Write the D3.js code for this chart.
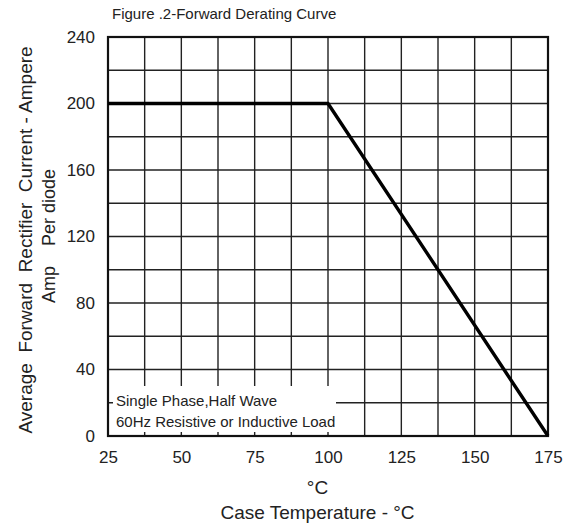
<!DOCTYPE html>
<html><head><meta charset="utf-8">
<script src="https://cdn.jsdelivr.net/npm/d3@7/dist/d3.min.js"></script>
<style>body{margin:0;background:#fff}svg{display:block}text{font-family:"Liberation Sans",Arial,sans-serif;fill:#222}</style>
</head><body><svg id="c" width="575" height="527"></svg>
<script>
const temps = [25, 100, 175];
const current = [200, 200, 0];
const xTicks = [25, 50, 75, 100, 125, 150, 175];
const yTicks = [0, 40, 80, 120, 160, 200, 240];
const xGrid = [25, 37.5, 50, 62.5, 75, 87.5, 100, 112.5, 125, 137.5, 150, 162.5, 175];
const yGrid = [0, 20, 40, 60, 80, 100, 120, 140, 160, 180, 200, 220, 240];
const titleText = "Figure .2-Forward Derating Curve";
const yTitle1 = "Average  Forward  Rectifier  Current - Ampere";
const yTitle2 = "Amp    Per diode";
const xTitle1 = "°C";
const xTitle2 = "Case Temperature - °C";
const noteLines = ["Single Phase,Half Wave", "60Hz Resistive or Inductive Load"];

const svg = d3.select("#c");
const L = 108, R = 548, T = 37, B = 436;
const x = d3.scaleLinear().domain([25, 175]).range([L, R]);
const y = d3.scaleLinear().domain([0, 240]).range([B, T]);

// grid
svg.append("g").selectAll("line").data(xGrid).join("line")
  .attr("x1", d => x(d)).attr("x2", d => x(d)).attr("y1", T).attr("y2", B)
  .attr("stroke", "#222").attr("stroke-width", 1.4);
svg.append("g").selectAll("line").data(yGrid).join("line")
  .attr("y1", d => y(d)).attr("y2", d => y(d)).attr("x1", L).attr("x2", R)
  .attr("stroke", "#222").attr("stroke-width", 1.4);

// note mask
svg.append("rect").attr("x", 113).attr("y", 386).attr("width", 223).attr("height", 46).attr("fill", "#fff");
svg.append("g").selectAll("text").data(noteLines).join("text")
  .attr("x", 116).attr("y", (d, i) => 406 + i * 21)
  .attr("font-size", 15).text(d => d);

// border
svg.append("rect").attr("x", L).attr("y", T).attr("width", R - L).attr("height", B - T)
  .attr("fill", "none").attr("stroke", "#111").attr("stroke-width", 2.2);

// curve
const line = d3.line().x((d, i) => x(temps[i])).y((d, i) => y(current[i]));
svg.append("path").datum(temps).attr("d", line)
  .attr("fill", "none").attr("stroke", "#000").attr("stroke-width", 3.4);

// axes
const xa = svg.append("g").attr("transform", `translate(0,${B})`)
  .call(d3.axisBottom(x).tickValues(xTicks).tickSize(0).tickPadding(15).tickFormat(d3.format("d")));
const ya = svg.append("g").attr("transform", `translate(${L},0)`)
  .call(d3.axisLeft(y).tickValues(yTicks).tickSize(0).tickPadding(13).tickFormat(d3.format("d")));
[xa, ya].forEach(a => {
  a.select(".domain").remove();
  a.selectAll("text").attr("font-size", 17).attr("fill", "#222")
    .attr("font-family", '"Liberation Sans",Arial,sans-serif');
});

// titles
svg.append("text").attr("x", 112).attr("y", 19).attr("font-size", 15).text(titleText);
svg.append("text").attr("x", 317.5).attr("y", 494).attr("text-anchor", "middle").attr("font-size", 19).text(xTitle1);
svg.append("text").attr("x", 317.5).attr("y", 519).attr("text-anchor", "middle").attr("font-size", 19).text(xTitle2);
svg.append("text").attr("transform", "translate(32,240) rotate(-90)").attr("text-anchor", "middle")
  .attr("font-size", 19).style("white-space", "pre").text(yTitle1);
svg.append("text").attr("transform", "translate(55,236) rotate(-90)").attr("text-anchor", "middle")
  .attr("font-size", 18).style("white-space", "pre").text(yTitle2);
</script></body></html>
